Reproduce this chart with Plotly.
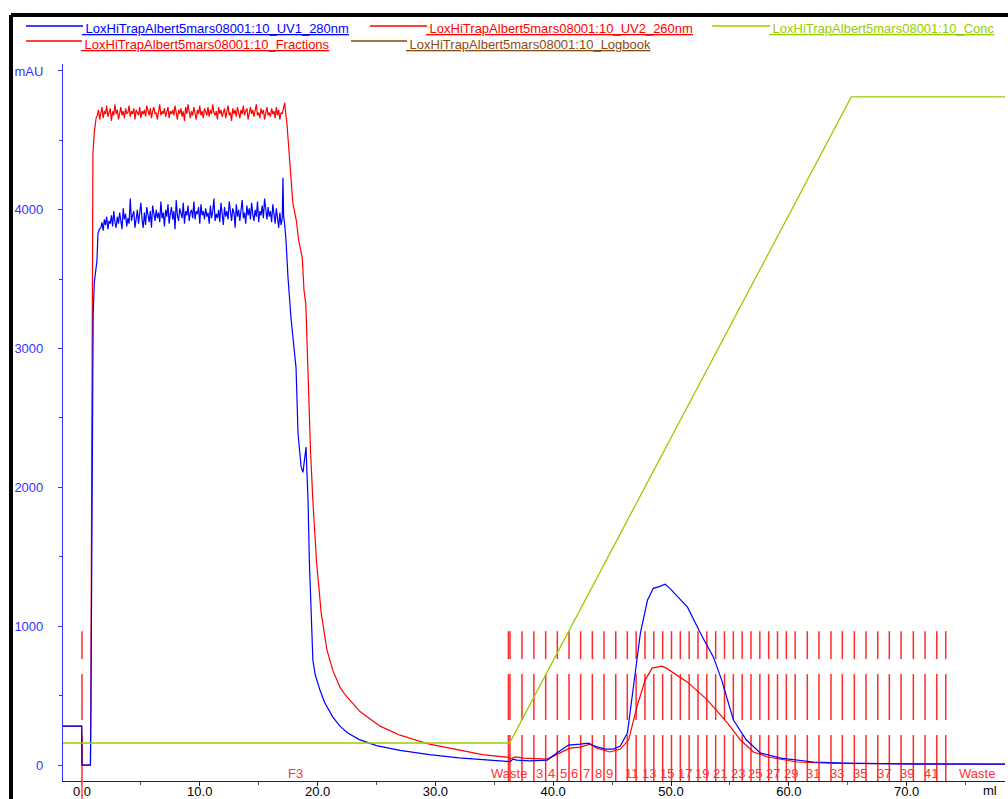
import plotly.graph_objects as go

# ---------------- data ----------------
# UV1 280 nm (blue), ml vs mAU
uv1_start_ml = [-1.61, -0.02, 0.0, 0.72, 0.76, 0.82, 0.88, 0.95, 1.05, 1.15, 1.27, 1.36, 1.48]
uv1_start_mau = [280, 280, 0, 0, 400, 1600, 2700, 3250, 3480, 3560, 3630, 3830, 3860]

# noisy plateau, sampled every 0.1 ml from 1.6 ml
uv1_plateau_first_ml = 1.6
uv1_plateau_mau = [3870, 3910, 3850, 3930, 3890, 3950, 3860, 3920, 3900, 3960,
                   3880, 3990, 3910, 3870, 3950, 3900, 3980, 3920, 3860, 4010,
                   3930, 3970, 3880, 3940, 3900, 4080, 3920, 3960, 3990, 3870,
                   3940, 4000, 3900, 3960, 4050, 3930, 3870, 3980, 3890, 4020,
                   3950, 3910, 3990, 3870, 4030, 3960, 3920, 4000, 3940, 3980,
                   3910, 4060, 3940, 3980, 3880, 4000, 3950, 4040, 3900, 3970,
                   4020, 3930, 3990, 3860, 4070, 3960, 3920, 4010, 3970, 3940,
                   4050, 3900, 3990, 3960, 4030, 3920, 3980, 4000, 3940, 4060,
                   3930, 3990, 3970, 4020, 3900, 4040, 3960, 3990, 3930, 4010,
                   3950, 3980, 3900, 4030, 3940, 3990, 4080, 3920, 3970, 3940,
                   4000, 3910, 4050, 3960, 3890, 4020, 3950, 3990, 3930, 4060,
                   3960, 3920, 4010, 3980, 3870, 4040, 3950, 4000, 3920, 3990,
                   4070, 3940, 3980, 3900, 4030, 3960, 4010, 3930, 4050, 3970,
                   3920, 4000, 3950, 4060, 3910, 3990, 3960, 4030, 3940, 4080,
                   3970, 3930, 4020, 3950, 3990, 3910, 4040, 3960, 3900, 4010,
                   3950, 3870, 3980, 3890, 3940]

uv1_tail_ml = [17.06, 17.12, 17.2, 17.32, 17.49, 17.74, 17.91, 18.17, 18.34, 18.6, 18.76, 18.9,
               19.02, 19.1, 19.19, 19.3, 19.45, 19.6, 19.8, 20.2, 20.6, 21.3, 21.9, 22.5,
               23.5, 25.0, 27.0, 29.5, 32.0, 34.0, 36.2, 36.35, 36.6, 36.9, 38.0, 39.5,
               40.3, 41.3, 42.3, 43.0, 43.5, 44.4, 45.1, 45.7, 46.3, 46.8, 47.4, 48.0,
               48.5, 49.0, 49.5, 49.9, 50.6, 51.4, 52.5, 53.6, 54.3, 55.3, 56.4, 57.6,
               59.3, 62.1, 64.9, 70.6, 78.7]
uv1_tail_mau = [4230, 3950, 3900, 3780, 3510, 3223, 3079, 2863, 2388, 2150, 2108, 2200,
                2290, 2100, 1906, 1475, 1050, 755, 650, 540, 450, 345, 280, 235,
                185, 140, 105, 75, 52, 38, 28, 25, 43, 35, 30, 36,
                86, 144, 151, 158, 137, 115, 115, 137, 230, 561, 950, 1187,
                1273, 1285, 1302, 1273, 1210, 1137, 950, 777, 612, 324, 180, 86,
                50, 22, 14, 7, 7]

# UV2 260 nm (red)
uv2_start_ml = [-1.61, -0.02, 0.0, 0.72, 0.76, 0.8, 0.86, 0.93, 1.05, 1.2]
uv2_start_mau = [280, 280, 0, 0, 600, 2000, 3600, 4400, 4560, 4660]

# noisy plateau, sampled every 0.1 ml from 1.3 ml
uv2_plateau_first_ml = 1.3
uv2_plateau_mau = [4680, 4720, 4650, 4700, 4740, 4660, 4710, 4690, 4750, 4670,
                   4700, 4730, 4640, 4710, 4680, 4760, 4690, 4720, 4650, 4700,
                   4740, 4680, 4710, 4660, 4730, 4690, 4700, 4750, 4670, 4710,
                   4690, 4730, 4650, 4720, 4700, 4680, 4740, 4660, 4710, 4690,
                   4720, 4670, 4750, 4700, 4680, 4730, 4660, 4710, 4740, 4690,
                   4700, 4650, 4720, 4760, 4680, 4710, 4690, 4730, 4670, 4700,
                   4740, 4660, 4710, 4690, 4720, 4680, 4750, 4700, 4650, 4720,
                   4690, 4730, 4670, 4710, 4640, 4740, 4690, 4760, 4700, 4660,
                   4710, 4680, 4740, 4700, 4650, 4720, 4690, 4750, 4680, 4710,
                   4660, 4730, 4700, 4680, 4740, 4670, 4720, 4690, 4760, 4700,
                   4680, 4710, 4650, 4740, 4690, 4720, 4670, 4700, 4730, 4660,
                   4710, 4750, 4680, 4700, 4640, 4730, 4690, 4720, 4670, 4740,
                   4700, 4660, 4720, 4690, 4750, 4680, 4710, 4730, 4650, 4700,
                   4740, 4690, 4720, 4670, 4710, 4760, 4680, 4700, 4660, 4730,
                   4690, 4720, 4650, 4710, 4740, 4680, 4700, 4670, 4730, 4690,
                   4710, 4660, 4740, 4680, 4720, 4650, 4700, 4690, 4730]

uv2_tail_ml = [17.2, 17.4, 17.65, 17.9, 18.2, 18.4, 18.7, 18.85, 19.0, 19.2, 19.4, 19.6,
               19.9, 20.3, 20.8, 21.3, 21.9, 22.3, 22.75, 23.6, 25.3, 27.0, 29.5, 32.1,
               34.0, 36.2, 36.35, 36.8, 37.5, 39.5, 40.6, 41.4, 42.3, 43.1, 43.7, 44.8,
               45.7, 46.4, 47.1, 47.8, 48.4, 49.2, 49.6, 50.5, 51.4, 53.1, 54.8, 55.9,
               57.0, 58.2, 60.7, 64.0, 70.0, 78.7]
uv2_tail_mau = [4770, 4620, 4300, 4050, 3920, 3777, 3655, 3417, 3323, 2748, 2266, 1906,
                1475, 1100, 827, 680, 561, 510, 468, 385, 280, 215, 150, 105,
                75, 55, 43, 58, 50, 43, 86, 122, 129, 151, 122, 94,
                115, 180, 417, 612, 698, 712, 698, 650, 597, 468, 302, 180,
                94, 58, 22, 12, 8, 7]

# Concentration (% B)
conc_ml = [-1.61, 36.3, 65.3, 78.7]
conc_pct = [0, 0, 100, 100]

# Fractions (start volume, ml) and names
frac_start_ml = [0.0, 36.2, 36.33, 37.35, 38.36, 39.36, 40.35, 41.34, 42.33, 43.32, 44.31,
                 45.31, 46.29, 47.04, 47.79, 48.54, 49.29, 50.04, 50.79, 51.54, 52.29,
                 53.04, 53.79, 54.54, 55.29, 56.04, 56.79, 57.54, 58.29, 59.04, 59.79,
                 60.54, 61.57, 62.56, 63.58, 64.54, 65.56, 66.55, 67.55, 68.53, 69.53,
                 70.57, 71.56, 72.56, 73.32]
frac_end_ml = 78.7
frac_names = ["F3", "Waste"] + [str(i) for i in range(1, 43)] + ["Waste"]
frac_shown = {"F3", "Waste", "3", "4", "5", "6", "7", "8", "9"} | {str(i) for i in range(11, 42, 2)}

series_names = ["LoxHiTrapAlbert5mars08001:10_UV1_280nm",
                "LoxHiTrapAlbert5mars08001:10_UV2_260nm",
                "LoxHiTrapAlbert5mars08001:10_Conc",
                "LoxHiTrapAlbert5mars08001:10_Fractions",
                "LoxHiTrapAlbert5mars08001:10_Logbook"]

y_tick_vals = [0, 1000, 2000, 3000, 4000, 5000]
y_tick_text = ["0", "1000", "2000", "3000", "4000", "mAU"]
x_tick_vals = [0, 10, 20, 30, 40, 50, 60, 70]
x_tick_text = ["0.0", "10.0", "20.0", "30.0", "40.0", "50.0", "60.0", "70.0"]

SAMPLE_STEP_ML = 0.1

# ---------------- styling ----------------
BLUE = "#0000ff"
RED = "#ff0000"
GREEN = "#99cc00"
BROWN = "#8b4a12"
FONT = "Liberation Sans, Arial, sans-serif"

W, H = 1008, 799
L, R, T, B = 63, 3, 64, 18
PW, PH = W - L - R, H - T - B


def px(xp):
    return (xp - L) / PW


def py(yp):
    return (H - B - yp) / PH


# dash pattern of fraction marks (mAU units)
FRAC_SEGS = [(964, 763), (655, 324), (216, -115)]

fig = go.Figure()

# fraction marks
fx, fy = [], []
for s in frac_start_ml:
    for a, b in FRAC_SEGS:
        fx += [s, s, None]
        fy += [a, b, None]
fig.add_trace(go.Scatter(x=fx, y=fy, mode="lines", line=dict(color="#ff2a2a", width=1.5),
                         hoverinfo="skip", showlegend=False))

# conc on hidden secondary axis
fig.add_trace(go.Scatter(x=conc_ml, y=conc_pct, mode="lines", yaxis="y2",
                         line=dict(color=GREEN, width=1.3), showlegend=False))

uv2_plateau_ml = [round(uv2_plateau_first_ml + i * SAMPLE_STEP_ML, 2) for i in range(len(uv2_plateau_mau))]
uv2_x = uv2_start_ml + uv2_plateau_ml + uv2_tail_ml
uv2_y = uv2_start_mau + uv2_plateau_mau + uv2_tail_mau
fig.add_trace(go.Scatter(x=uv2_x, y=uv2_y, mode="lines", line=dict(color=RED, width=1.2),
                         showlegend=False))

uv1_plateau_ml = [round(uv1_plateau_first_ml + i * SAMPLE_STEP_ML, 2) for i in range(len(uv1_plateau_mau))]
uv1_x = uv1_start_ml + uv1_plateau_ml + uv1_tail_ml
uv1_y = uv1_start_mau + uv1_plateau_mau + uv1_tail_mau
fig.add_trace(go.Scatter(x=uv1_x, y=uv1_y, mode="lines", line=dict(color=BLUE, width=1.2),
                         showlegend=False))

annotations = []
# fraction labels
for i, name in enumerate(frac_names):
    if name not in frac_shown:
        continue
    s = frac_start_ml[i]
    e = frac_start_ml[i + 1] if i + 1 < len(frac_start_ml) else frac_end_ml
    annotations.append(dict(x=(s + e) / 2, y=-62, xref="x", yref="y", text=name,
                            showarrow=False, font=dict(family=FONT, size=13, color="#ff3333"),
                            xanchor="center", yanchor="middle"))

# axis unit label
annotations.append(dict(x=px(990), y=py(790), xref="paper", yref="paper", text="ml",
                        showarrow=False, font=dict(family=FONT, size=13, color="black"),
                        xanchor="center", yanchor="middle"))

# custom legend
legend_items = [
    (series_names[0], BLUE, 26, 83, 29, 26),
    (series_names[1], RED, 370, 427, 29, 26),
    (series_names[2], GREEN, 712, 770, 29, 26),
    (series_names[3], RED, 26, 82, 45, 41),
    (series_names[4], BROWN, 351, 407, 45, 41),
]
shapes = []
for name, col, x0, x1, ty, ly in legend_items:
    shapes.append(dict(type="line", xref="paper", yref="paper", x0=px(x0), x1=px(x1),
                       y0=py(ly), y1=py(ly), line=dict(color=col, width=1.3)))
    annotations.append(dict(x=px(x1 - 1), y=py(ty), xref="paper", yref="paper",
                            text="<u> " + name + "</u>", showarrow=False,
                            font=dict(family=FONT, size=13, color=col),
                            xanchor="left", yanchor="middle", xshift=-2))

# frame (black, top & left)
shapes.append(dict(type="line", xref="paper", yref="paper", x0=px(11), x1=px(1010),
                   y0=py(15), y1=py(15), line=dict(color="black", width=4)))
shapes.append(dict(type="line", xref="paper", yref="paper", x0=px(11), x1=px(11),
                   y0=py(15), y1=py(800), line=dict(color="black", width=4)))
# injection mark extension below axis at 0 ml
shapes.append(dict(type="line", xref="x", yref="paper", x0=frac_start_ml[0], x1=frac_start_ml[0],
                   y0=0, y1=py(799), line=dict(color="#ff4d4d", width=1.5)))

fig.update_layout(
    width=W, height=H,
    margin=dict(l=L, r=R, t=T, b=B, pad=0, autoexpand=False),
    paper_bgcolor="white", plot_bgcolor="white",
    font=dict(family=FONT, size=13),
    showlegend=False,
    xaxis=dict(range=[-1.61, 78.35], tickvals=x_tick_vals, ticktext=x_tick_text,
               automargin=False,
               showgrid=False, zeroline=False, showline=True, linecolor="#222222", linewidth=1.2,
               ticks="outside", ticklen=4, tickcolor="#222222", tickfont=dict(color="black", size=13),
               ticklabelstandoff=-6,
               minor=dict(dtick=5, tick0=0, ticks="outside", ticklen=3, tickcolor="#555555"),
               fixedrange=True),
    yaxis=dict(range=[-115, 5050], tickvals=y_tick_vals, ticktext=y_tick_text,
               automargin=False,
               showgrid=False, zeroline=False, showline=True, linecolor="#3333ff", linewidth=1.2,
               ticks="outside", ticklen=4, tickcolor="#3333ff", tickfont=dict(color="#3333ff", size=13),
               ticklabelstandoff=12,
               minor=dict(dtick=500, tick0=0, ticks="outside", ticklen=3, tickcolor="#3333ff"),
               fixedrange=True),
    yaxis2=dict(range=[-5.88, 105.1], overlaying="y", side="right", visible=False,
                automargin=False, showgrid=False, zeroline=False),
    annotations=annotations,
    shapes=shapes,
)

fig.write_html("out.html", config={"displayModeBar": False},
               post_script="document.body.style.margin='0';")
